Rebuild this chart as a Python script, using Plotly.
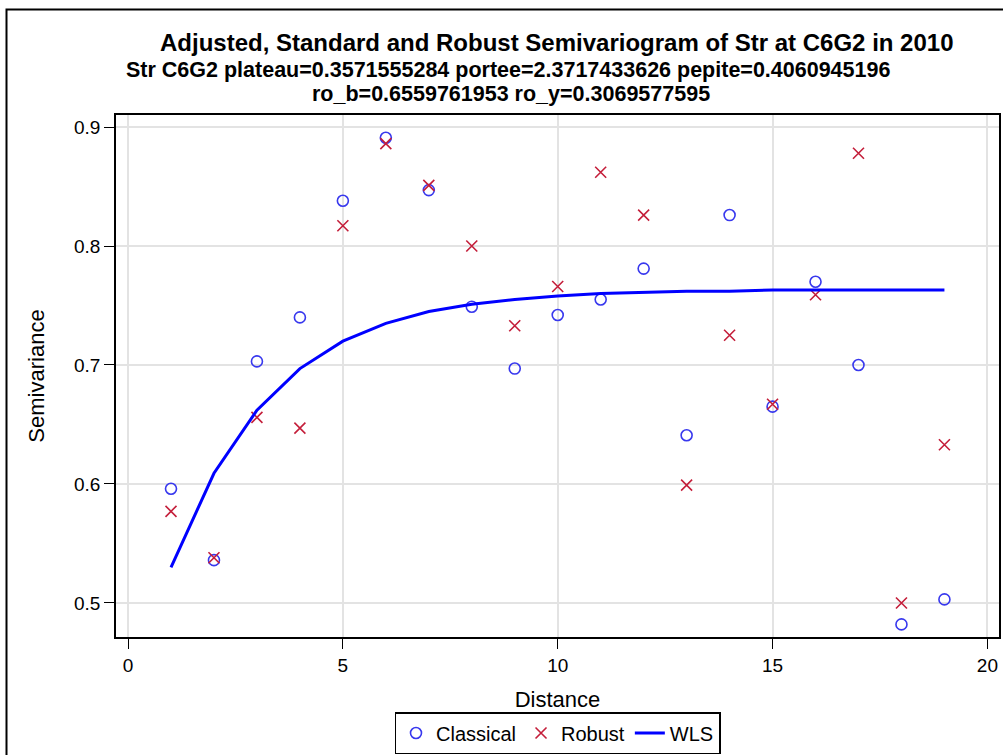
import plotly.graph_objects as go

# distances (lag classes)
distance = list(range(1, 20))

# classical (Matheron) semivariance
classical = [0.596, 0.536, 0.703, 0.740, 0.838, 0.891, 0.847, 0.749, 0.697, 0.742,
             0.755, 0.781, 0.641, 0.826, 0.665, 0.770, 0.700, 0.482, 0.503]

# robust (Cressie-Hawkins) semivariance
robust = [0.577, 0.538, 0.656, 0.647, 0.817, 0.886, 0.851, 0.800, 0.733, 0.766,
          0.862, 0.826, 0.599, 0.725, 0.667, 0.759, 0.878, 0.500, 0.633]

# fitted WLS model
wls = [0.530, 0.609, 0.662, 0.697, 0.720, 0.735, 0.745, 0.751, 0.755, 0.758,
       0.760, 0.761, 0.762, 0.762, 0.763, 0.763, 0.763, 0.763, 0.763]

x_ticks = [0, 5, 10, 15, 20]
y_ticks = [0.5, 0.6, 0.7, 0.8, 0.9]

title_1 = "Adjusted, Standard and Robust Semivariogram of Str at C6G2 in 2010"
title_2 = "Str C6G2 plateau=0.3571555284 portee=2.3717433626 pepite=0.4060945196"
title_3 = "ro_b=0.6559761953 ro_y=0.3069577595"

FONT = "Liberation Sans, Arial, sans-serif"

fig = go.Figure()

fig.add_trace(go.Scatter(
    x=distance, y=classical, mode="markers", name="Classical",
    marker=dict(symbol="circle-open", size=11, color="#3838ee", line=dict(width=1.6))
))
fig.add_trace(go.Scatter(
    x=distance, y=robust, mode="markers", name="Robust",
    marker=dict(symbol="x-thin-open", size=11, color="#c41e3a", line=dict(width=1.6))
))
fig.add_trace(go.Scatter(
    x=distance, y=wls, mode="lines", name="WLS",
    line=dict(color="#0000ff", width=3)
))

# plot area in pixels: left 116, right 999, top 115, bottom 637
L, R, T, B = 116, 4, 115, 118
W, H = 1003, 755
pw, ph = W - L - R, H - T - B

def px_x(px):
    return (px - L) / pw

def px_y(py):
    return (H - B - py) / ph

annotations = [
    dict(text="<b>" + title_1 + "</b>", x=px_x(557), y=px_y(43), font=dict(size=24)),
    dict(text="<b>" + title_2 + "</b>", x=px_x(508), y=px_y(70), font=dict(size=21.5)),
    dict(text="<b>" + title_3 + "</b>", x=px_x(511), y=px_y(94), font=dict(size=21.5)),
]
for a in annotations:
    a.update(xref="paper", yref="paper", showarrow=False, xanchor="center", yanchor="middle")
    a["font"].update(family=FONT, color="black")

fig.update_layout(
    width=W, height=H,
    margin=dict(l=L, r=R, t=T, b=B, autoexpand=False),
    paper_bgcolor="white", plot_bgcolor="white",
    font=dict(family=FONT, color="black", size=19),
    annotations=annotations,
    showlegend=True,
    legend=dict(
        orientation="h", x=0.5, xanchor="center",
        yref="container", y=(H - 712) / H, yanchor="top",
        bordercolor="black", borderwidth=1.5, font=dict(size=20),
        itemwidth=30, tracegroupgap=0, valign="middle"
    ),
    shapes=[dict(
        type="rect", xref="paper", yref="paper",
        x0=px_x(6.5), x1=px_x(1010), y0=px_y(9.5), y1=px_y(770),
        line=dict(color="black", width=2), fillcolor="rgba(0,0,0,0)", layer="below"
    )],
)

fig.update_xaxes(
    range=[-0.28, 20.27], tickvals=x_ticks, ticks="outside", ticklen=10,
    tickcolor="black", showline=True, linecolor="black", linewidth=1.5, mirror=True,
    showgrid=True, gridcolor="#e3e3e3", gridwidth=1.5, zeroline=False, automargin=False,
    title=dict(text="Distance", font=dict(size=22), standoff=18),
    tickfont=dict(size=19)
)
fig.update_yaxes(
    range=[0.4714, 0.9101], tickvals=y_ticks, tickformat=".1f", ticks="outside", ticklen=10,
    tickcolor="black", showline=True, linecolor="black", linewidth=1.5, mirror=True,
    showgrid=True, gridcolor="#e3e3e3", gridwidth=1.5, zeroline=False, automargin=False,
    title=dict(text="Semivariance", font=dict(size=22), standoff=23),
    tickfont=dict(size=19)
)

fig.write_html(
    "out.html",
    config={"displayModeBar": False},
    post_script="document.body.style.margin='0';document.body.style.overflow='hidden';"
)
